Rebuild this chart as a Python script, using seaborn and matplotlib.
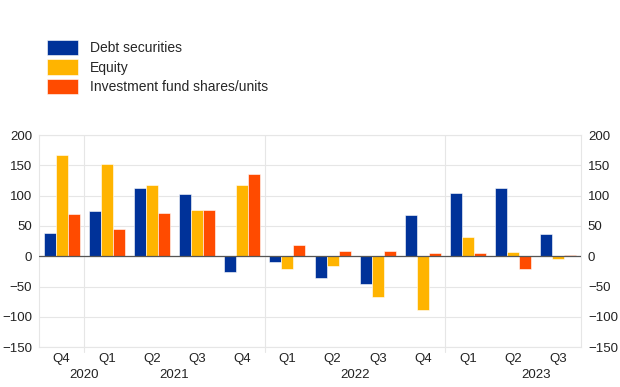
import matplotlib

matplotlib.use("Agg")
import matplotlib.pyplot as plt
import pandas as pd
import seaborn as sns

PERIODS = ["2020Q4", "2021Q1", "2021Q2", "2021Q3", "2021Q4", "2022Q1",
           "2022Q2", "2022Q3", "2022Q4", "2023Q1", "2023Q2", "2023Q3"]
QUARTER_LABELS = ["Q4", "Q1", "Q2", "Q3", "Q4", "Q1", "Q2", "Q3", "Q4", "Q1", "Q2", "Q3"]
YEAR_LABELS = ["2020", "2021", "2022", "2023"]
YEAR_POSITIONS = [0.5, 2.5, 6.5, 10.5]
YEAR_BREAKS = [0.5, 4.5, 8.5]

SERIES = ["Debt securities", "Equity", "Investment fund shares/units"]
DEBT = [39, 74, 112, 103, -26, -9, -36, -45, 68, 104, 113, 37]
EQUITY = [167, 152, 118, 77, 117, -21, -16, -67, -89, 32, 7, -5]
FUND = [70, 45, 72, 77, 136, 19, 8, 9, 6, 6, -21, 2]

COLORS = ["#003299", "#FFB400", "#FF4B00"]
Y_TICKS = [-150, -100, -50, 0, 50, 100, 150, 200]

df = pd.DataFrame(
    {
        "period": PERIODS * 3,
        "value": DEBT + EQUITY + FUND,
        "series": [s for s in SERIES for _ in PERIODS],
    }
)

sns.set_style("white")
plt.rcParams["font.family"] = ["Liberation Sans", "DejaVu Sans"]

fig = plt.figure(figsize=(6.2, 3.87), dpi=100)
ax = fig.add_axes([0.063, 0.103, 0.874, 0.548])

# grid first so bars sit on top
for y in Y_TICKS:
    ax.axhline(y, color="#e6e6e6", linewidth=0.8, zorder=0)
for x in YEAR_BREAKS:
    ax.axvline(x, ymin=-0.025, ymax=1, color="#e6e6e6", linewidth=0.8, zorder=0, clip_on=False)

sns.barplot(
    data=df,
    x="period",
    y="value",
    hue="series",
    order=PERIODS,
    hue_order=SERIES,
    palette=COLORS,
    saturation=1,
    width=0.8,
    edgecolor="white",
    linewidth=0.4,
    ax=ax,
    zorder=2,
)
ax.axhline(0, color="#555555", linewidth=0.9, zorder=3)

ax.set_xlim(-0.5, len(PERIODS) - 0.5)
ax.set_ylim(-150, 200)
ax.set_yticks(Y_TICKS)
ax.set_xticks(range(len(PERIODS)))
ax.set_xticklabels(QUARTER_LABELS)
ax.set_xlabel("")
ax.set_ylabel("")
ax.tick_params(axis="both", length=0, labelsize=9.5, colors="#222222")
ax.tick_params(axis="x", pad=4)
ax.tick_params(axis="y", pad=5, labelright=True)

for x, label in zip(YEAR_POSITIONS, YEAR_LABELS):
    ax.text(x, -0.105, label, transform=ax.get_xaxis_transform(),
            ha="center", va="top", fontsize=9.5, color="#222222")

for side in ["top", "bottom", "left", "right"]:
    ax.spines[side].set_color("#e6e6e6")
    ax.spines[side].set_linewidth(0.8)

handles, labels = ax.get_legend_handles_labels()
ax.legend_.remove()
fig.legend(
    handles,
    labels,
    loc="upper left",
    bbox_to_anchor=(0.076, 0.897),
    frameon=False,
    fontsize=10,
    handlelength=2.2,
    handleheight=1.35,
    labelspacing=0.28,
    handletextpad=0.9,
    borderaxespad=0,
    borderpad=0,
)

fig.savefig("out.png", dpi=100)
